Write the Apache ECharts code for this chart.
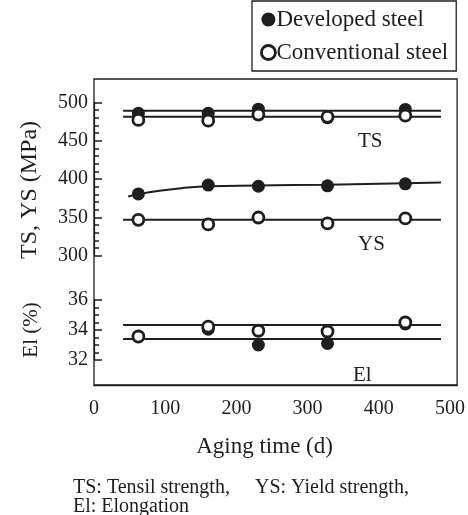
<!DOCTYPE html>
<html><head><meta charset="utf-8">
<script src="https://cdn.jsdelivr.net/npm/echarts@6/dist/echarts.min.js"></script>
<style>html,body{margin:0;padding:0;background:#fff}#c{width:468px;height:515px}</style>
</head><body><div id="c"></div>
<script>
const agingDays = [61, 157, 226, 321, 428];
const tsDeveloped = [485.6, 485.6, 491, 480, 490.7];
const tsConventional = [477, 476, 484, 481, 482.6];
const ysDeveloped = [380.5, 392, 390.5, 391, 393.7];
const ysConventional = [346.7, 340.7, 349.7, 342, 348.5];
const elDeveloped = [33.6, 34.05, 33.0, 33.1, 34.4];
const elConventional = [33.56, 34.22, 33.95, 33.9, 34.5];
const fitX = [40, 477];
const tsDevFit = [489, 489];
const tsConvFit = [481.2, 481.2];
const ysConvFit = [346.7, 346.7];
const elUpperFit = [34.33, 34.33];
const elLowerFit = [33.4, 33.4];
const ysCurveX = [47, 61, 90, 120, 157, 226, 321, 428, 477];
const ysCurveY = [377, 380, 384.5, 388, 390.5, 391.5, 392.5, 394.5, 395.5];
const xTicks = [0, 100, 200, 300, 400, 500];

const K = '#1e1e1e';
const FONT = 'Liberation Serif';
const pair = (xs, ys) => xs.map((x, i) => [x, ys[i]]);
const chart = echarts.init(document.getElementById('c'), null, {renderer: 'canvas'});

const dev = (xi, yi, data) => ({type: 'scatter', name: 'Developed steel', xAxisIndex: xi, yAxisIndex: yi, data,
  symbol: 'circle', symbolSize: 13, itemStyle: {color: K, opacity: 1}, z: 4, silent: true});
const conv = (xi, yi, data) => ({type: 'scatter', name: 'Conventional steel', xAxisIndex: xi, yAxisIndex: yi, data,
  symbol: 'circle', symbolSize: 11, itemStyle: {color: '#fff', borderColor: K, borderWidth: 2.8, opacity: 1}, z: 5, silent: true});
const line = (xi, yi, data, smooth) => ({type: 'line', xAxisIndex: xi, yAxisIndex: yi, data, smooth: !!smooth,
  showSymbol: false, lineStyle: {color: K, width: 2}, z: 2, silent: true});

const hiddenX = gi => ({type: 'value', gridIndex: gi, min: 0, max: 510, show: false});
const yCommon = {
  axisLine: {show: true, lineStyle: {color: K, width: 1.3}}, splitLine: {show: false},
  axisTick: {show: true, inside: true, length: 8, lineStyle: {color: K, width: 1.5}},
  minorTick: {show: true, length: 5, lineStyle: {color: K, width: 1.5}},
  axisLabel: {color: K, fontFamily: FONT, fontSize: 20, margin: 6},
  nameLocation: 'middle', nameRotate: 90
};

chart.setOption({
  animation: false,
  textStyle: {fontFamily: FONT},
  legend: {
    left: 252, top: 1, orient: 'vertical', itemGap: 10,
    padding: [7, 8, 7, 8],
    borderColor: K, borderWidth: 1.3,
    itemWidth: 14, itemHeight: 14,
    textStyle: {color: K, fontFamily: FONT, fontSize: 23, padding: [0, 0, 0, -4]},
    data: [
      {name: 'Developed steel', itemStyle: {color: K, opacity: 1}},
      {name: 'Conventional steel', itemStyle: {color: '#fff', borderColor: K, borderWidth: 2.8, opacity: 1}}
    ]
  },
  grid: [
    {left: 94, right: 3, top: 79, bottom: 130, show: true, borderColor: K, borderWidth: 1.3, backgroundColor: 'transparent'},
    {left: 94, right: 3, top: 102.3, height: 153.3},
    {left: 94, right: 3, top: 300, height: 60}
  ],
  xAxis: [
    {type: 'value', gridIndex: 0, min: 0, max: 510, interval: 100,
     axisLine: {show: true, lineStyle: {color: K, width: 1.3}}, axisTick: {show: false}, splitLine: {show: false},
     axisLabel: {color: K, fontFamily: FONT, fontSize: 20, margin: 14,
       formatter: v => xTicks.indexOf(v) >= 0 ? String(v) : ''},
     name: 'Aging time (d)', nameLocation: 'middle', nameGap: 50,
     nameTextStyle: {color: K, fontFamily: FONT, fontSize: 23, padding: [0, 22, 0, 0]}},
    hiddenX(1), hiddenX(2)
  ],
  yAxis: [
    {type: 'value', gridIndex: 0, min: 0, max: 1, show: false},
    Object.assign({}, yCommon, {type: 'value', gridIndex: 1, min: 300, max: 500, interval: 50,
      minorTick: Object.assign({}, yCommon.minorTick, {splitNumber: 5}),
      name: 'TS, YS (MPa)', nameGap: 52,
      nameTextStyle: {color: K, fontFamily: FONT, fontSize: 24, padding: [0, 22, 0, 0]}}),
    Object.assign({}, yCommon, {type: 'value', gridIndex: 2, min: 32, max: 36, interval: 2,
      minorTick: Object.assign({}, yCommon.minorTick, {splitNumber: 4}),
      name: 'El (%)', nameGap: 52,
      nameTextStyle: {color: K, fontFamily: FONT, fontSize: 21}})
  ],
  series: [
    line(1, 1, pair(fitX, tsDevFit)),
    line(1, 1, pair(fitX, tsConvFit)),
    line(1, 1, pair(ysCurveX, ysCurveY), true),
    line(1, 1, pair(fitX, ysConvFit)),
    dev(1, 1, pair(agingDays, tsDeveloped)),
    conv(1, 1, pair(agingDays, tsConventional)),
    dev(1, 1, pair(agingDays, ysDeveloped)),
    conv(1, 1, pair(agingDays, ysConventional)),
    line(2, 2, pair(fitX, elUpperFit)),
    line(2, 2, pair(fitX, elLowerFit)),
    dev(2, 2, pair(agingDays, elDeveloped)),
    conv(2, 2, pair(agingDays, elConventional))
  ],
  graphic: [
    {type: 'text', left: 358, top: 131, style: {text: 'TS', font: '21px "Liberation Serif"', fill: K}},
    {type: 'text', left: 358, top: 234, style: {text: 'YS', font: '21px "Liberation Serif"', fill: K}},
    {type: 'text', left: 353, top: 365, style: {text: 'El', font: '21px "Liberation Serif"', fill: K}},
    {type: 'text', left: 73, top: 478, style: {text: 'TS: Tensil strength,', font: '20px "Liberation Serif"', fill: K}},
    {type: 'text', left: 255, top: 478, style: {text: 'YS: Yield strength,', font: '20px "Liberation Serif"', fill: K}},
    {type: 'text', left: 73, top: 497, style: {text: 'El: Elongation', font: '20px "Liberation Serif"', fill: K}}
  ]
});
</script></body></html>
